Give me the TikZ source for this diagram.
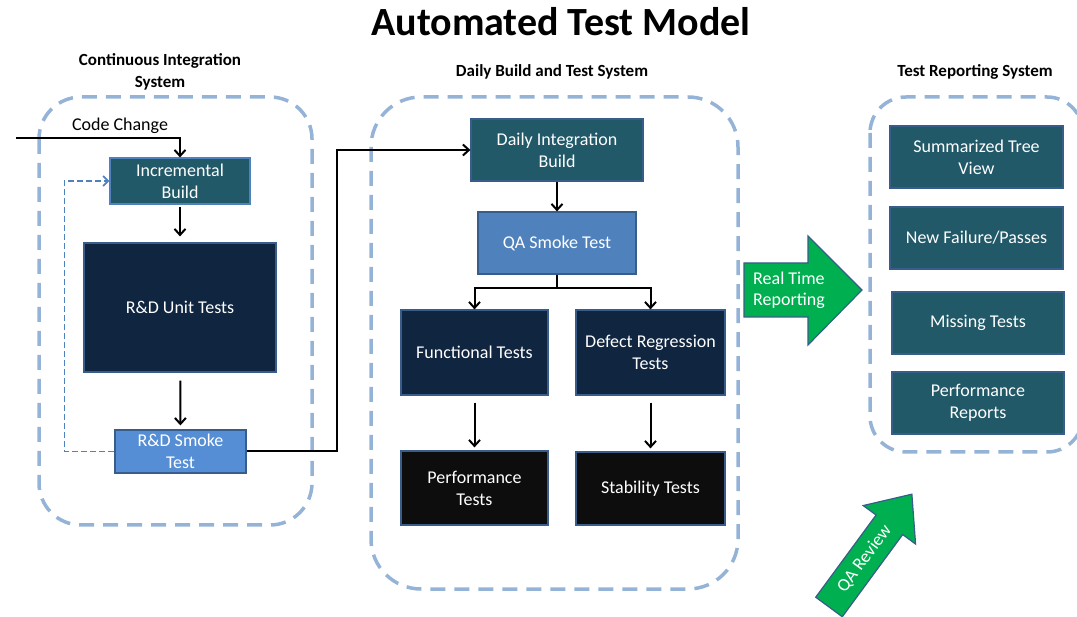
\documentclass[tikz,border=0pt]{standalone}
\usepackage{fontspec}
\setmainfont{Carlito}
\usetikzlibrary{calc,arrows.meta,positioning}

\definecolor{tealbox}{HTML}{215968}
\definecolor{navybox}{HTML}{10253F}
\definecolor{rdsmk}{HTML}{558ED5}
\definecolor{qasmk}{HTML}{4F81BD}
\definecolor{blkbox}{HTML}{0D0D0D}
\definecolor{edgeblue}{HTML}{385D8A}
\definecolor{grpblue}{HTML}{95B3D7}
\definecolor{arrgreen}{HTML}{00B050}

\tikzset{
  bx/.style={rectangle, draw=edgeblue, line width=1.2pt, text=white, align=center, font=\fontsize{18}{22}\selectfont, inner sep=2pt},
  tbox/.style={bx, fill=tealbox},
  nbox/.style={bx, fill=navybox},
  kbox/.style={bx, fill=blkbox},
  rbox/.style={bx, fill=rdsmk},
  qbox/.style={bx, fill=qasmk},
  grp/.style={draw=grpblue, line width=3.5pt, dash pattern=on 15pt off 9pt, rounded corners=42pt},
  hdr/.style={font=\bfseries\fontsize{17}{22}\selectfont, align=center},
  conn/.style={line width=2pt, -{Straight Barb[length=6pt,width=11pt]}},
  fb/.style={draw=qasmk, line width=1.8pt, dash pattern=on 6pt off 3pt, -{Straight Barb[length=5pt,width=10pt]}},
  garrow/.style={fill=arrgreen, draw=edgeblue, line width=1.2pt, line join=miter},
  glabel/.style={text=white, font=\fontsize{18}{21}\selectfont, align=left, inner sep=0pt},
}

\begin{document}
\begin{tikzpicture}[x=1pt, y=-1pt]
  \useasboundingbox (0,0) rectangle (1077,617);

  % Title
  \node[font=\bfseries\fontsize{40}{44}\selectfont] (ttl) at (561,22) {Automated Test Model};

  %% === Continuous integration (left) ===
  \draw[grp] (39,97) rectangle (312,525);
  \node[hdr] (hci) at (160,72) {Continuous Integration\\System};

  \node[tbox, draw=qasmk, minimum width=140pt, minimum height=46pt] (inc) at (180,181) {Incremental\\Build};
  \node[nbox, minimum width=192pt, minimum height=129pt] (unit) at (180,307.5) {R\&D Unit Tests};
  \node[rbox, minimum width=131pt, minimum height=43pt] (rdsmoke) at (180.5,451.5) {R\&D Smoke\\Test};

  % Code change comes in from the left
  \coordinate (cc) at (16,138);
  \draw[conn] (cc) -| (inc.north);
  \node[font=\fontsize{18}{22}\selectfont] (cclbl) at (120,126) {Code Change};

  \draw[conn, shorten <=2pt, shorten >=6pt] (inc) -- (unit);
  \draw[conn, shorten <=8pt, shorten >=4pt] (unit) -- (rdsmoke);

  % Feedback loop
  \draw[fb] (rdsmoke.west) -- ++(-50,0) |- (inc.west);

  %% === Daily build and test (middle) ===
  \draw[grp, rounded corners=50pt] (371,97) rectangle (738,589);
  \node[hdr] (hdb) at (552,72) {Daily Build and Test System};

  \node[tbox, minimum width=172pt, minimum height=62pt] (daily) at (557,150) {Daily Integration\\Build};
  \node[qbox, minimum width=158pt, minimum height=62pt] (qasmoke) at (557,243) {QA Smoke Test};
  \node[nbox, minimum width=147pt, minimum height=85pt] (func) at (474.5,352.5) {Functional Tests};
  \node[nbox, minimum width=149pt, minimum height=85pt] (defect) at (650.5,352.5) {Defect Regression\\Tests};
  \node[kbox, minimum width=147pt, minimum height=74pt] (perf) at (474.5,488) {Performance\\Tests};
  \node[kbox, minimum width=149pt, minimum height=73pt] (stab) at (650.5,488.5) {Stability Tests};

  % Hand over to the daily build
  \coordinate (hop) at (337,150);
  \draw[conn] (rdsmoke.east) -| (hop) -- (daily.west);

  \draw[conn] (daily) -- (qasmoke);
  \draw[conn] (qasmoke.south) -- ++(0,13) -| (func.north);
  \draw[conn] (qasmoke.south) -- ++(0,13) -| (defect.north);
  \draw[conn, shorten <=7pt, shorten >=3pt] (func) -- (perf);
  \draw[conn, shorten <=7pt, shorten >=3pt] (defect) -- (stab);

  %% === Test reporting (right) ===
  \draw[grp, rounded corners=36pt] (870,97) rectangle (1083,452);
  \node[hdr] (htr) at (975,72) {Test Reporting System};

  \node[tbox, minimum width=173pt, minimum height=62pt] (tree) at (976.5,157) {Summarized Tree\\View};
  \node[tbox, minimum width=173pt, minimum height=62pt] (fail) at (976.5,238) {New Failure/Passes};
  \node[tbox, minimum width=172pt, minimum height=62pt] (miss) at (978,323) {Missing Tests};
  \node[tbox, minimum width=172pt, minimum height=62pt] (prep) at (978,403) {Performance\\Reports};

  % Real time reporting arrow
  \draw[garrow] (744,263) -- (808,263) -- (808,236) -- (862,290)
    -- (808,345) -- (808,317) -- (744,317) -- cycle;
  \node[glabel, anchor=west] (rtr) at (753,290) {Real Time\\Reporting};

  % QA review arrow
  \begin{scope}[shift={(829,607)}, rotate=53.7]
    \draw[garrow] (0,-16.5) -- (102,-16.5) -- (102,-32.5) -- (140,0)
      -- (102,32.5) -- (102,16.5) -- (0,16.5) -- cycle;
    \node[glabel, rotate=53.7] (qar) at (60,0) {QA Review};
  \end{scope}
\end{tikzpicture}
\end{document}
